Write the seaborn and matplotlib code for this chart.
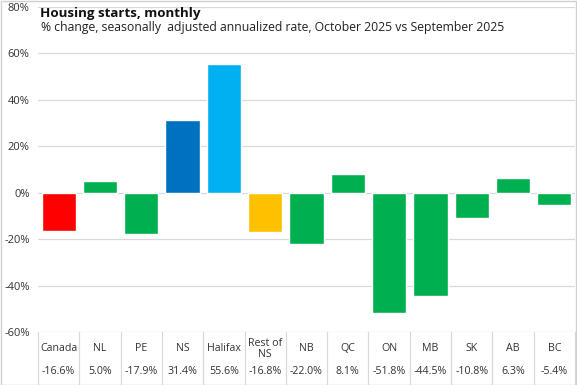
import matplotlib
matplotlib.use("Agg")
import matplotlib.pyplot as plt
import seaborn as sns
import pandas as pd

# Housing starts, % change Oct 2025 vs Sep 2025
regions = ["Canada", "NL", "PE", "NS", "Halifax", "Rest of\nNS", "NB", "QC",
           "ON", "MB", "SK", "AB", "BC"]
pct_change = [-16.6, 5.0, -17.9, 31.4, 55.6, -16.8, -22.0, 8.1,
              -51.8, -44.5, -10.8, 6.3, -5.4]
bar_colors = ["#FF0000", "#00B050", "#00B050", "#0070C0", "#00B0F0", "#FFC000",
              "#00B050", "#00B050", "#00B050", "#00B050", "#00B050", "#00B050", "#00B050"]

df = pd.DataFrame({"region": regions, "pct": pct_change})

sns.set_style("white")
plt.rcParams["font.family"] = ["Open Sans", "DejaVu Sans"]

fig = plt.figure(figsize=(5.77, 3.85), dpi=100)
ax = fig.add_axes([38 / 577, 53 / 385, 537 / 577, 325 / 385])

sns.barplot(data=df, x="region", y="pct", hue="region", palette=bar_colors,
            legend=False, width=0.83, saturation=1, ax=ax)

ax.set_ylim(-60, 80)
ax.set_xlim(-0.5, len(regions) - 0.5)
ax.set_yticks(range(-60, 81, 20))
ax.set_yticklabels([f"{v}%" for v in range(-60, 81, 20)], fontsize=8, color="#333333")
ax.yaxis.grid(True, color="#D9D9D9", linewidth=0.9)
ax.set_axisbelow(True)
ax.tick_params(axis="y", length=0, pad=6)
ax.set_xticks([])
ax.set_xlabel("")
ax.set_ylabel("")
for s in ax.spines.values():
    s.set_visible(False)

# table below the chart
trans = ax.get_xaxis_transform()
for i in range(len(regions) + 1):
    ax.plot([i - 0.5, i - 0.5], [0, -0.165], transform=trans, color="#D9D9D9",
            linewidth=0.9, clip_on=False)
for i, (r, v) in enumerate(zip(regions, pct_change)):
    ax.text(i, -0.052, r, transform=trans, ha="center", va="center",
            fontsize=7.7, color="#333333", linespacing=1.0)
    ax.text(i, -0.122, f"{v:.1f}%", transform=trans, ha="center", va="center",
            fontsize=7.7, color="#333333")

# titles
fig.text(40 / 577, 1 - 14 / 385, "Housing starts, monthly", fontsize=9.6,
         fontweight="bold", va="center", ha="left", color="#111111")
fig.text(41 / 577, 1 - 28 / 385,
         "% change, seasonally  adjusted annualized rate, October 2025 vs September 2025",
         fontsize=8.8, va="center", ha="left", color="#222222")

# border
fig.patches.append(plt.Rectangle((0.001, 0.001), 0.997, 0.997, transform=fig.transFigure,
                                 fill=False, edgecolor="#D0D0D0", linewidth=1))

fig.savefig("out.png", dpi=100)
